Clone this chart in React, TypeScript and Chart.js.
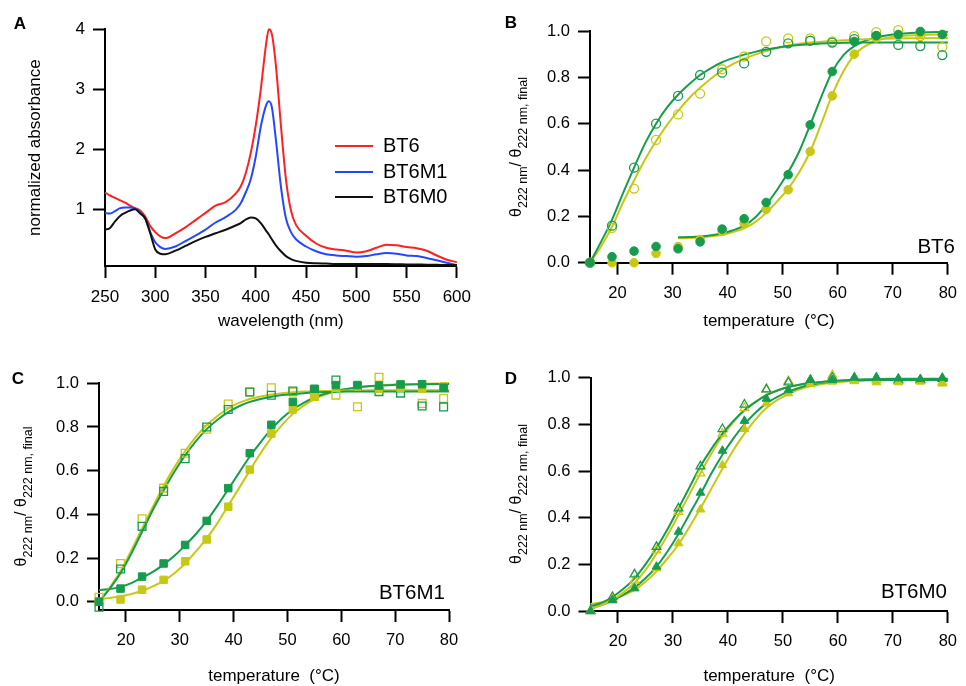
import React, { useEffect, useRef } from 'react';
import { Chart, registerables } from 'chart.js';

Chart.register(...registerables);

const FONT = '"Liberation Sans", Arial, Helvetica, sans-serif';
const GREEN = '#169c4c';
const YELLOW = '#c8c814';
const RED = '#ff2020';
const BLUE = '#2448ff';
const BLACK = '#111111';

// ---------- Panel A : absorbance spectra ----------
const WAVELENGTH = [250, 255, 260, 265, 270, 275, 280, 285, 290, 295, 300, 305, 310, 320, 330, 340, 350, 360, 370, 380, 385, 390, 395, 400, 405, 410, 413, 416, 420, 425, 430, 435, 440, 450, 460, 470, 480, 490, 500, 510, 520, 530, 540, 550, 560, 570, 580, 590, 600];
const ABS_BT6 = [1.28, 1.23, 1.19, 1.15, 1.11, 1.06, 1.02, 0.98, 0.88, 0.72, 0.62, 0.55, 0.52, 0.6, 0.7, 0.82, 0.94, 1.06, 1.12, 1.26, 1.38, 1.6, 1.94, 2.4, 3.0, 3.72, 4.0, 3.92, 3.4, 2.4, 1.5, 0.98, 0.74, 0.56, 0.43, 0.36, 0.33, 0.31, 0.28, 0.3, 0.36, 0.41, 0.4, 0.37, 0.35, 0.31, 0.23, 0.16, 0.12];
const ABS_BT6M1 = [0.94, 0.93, 0.97, 1.02, 1.03, 1.03, 1.01, 0.95, 0.84, 0.62, 0.45, 0.37, 0.34, 0.38, 0.47, 0.56, 0.66, 0.78, 0.87, 0.99, 1.1, 1.28, 1.5, 1.88, 2.38, 2.72, 2.8, 2.7, 2.16, 1.38, 0.85, 0.62, 0.5, 0.38, 0.3, 0.25, 0.23, 0.22, 0.21, 0.22, 0.25, 0.27, 0.26, 0.23, 0.22, 0.19, 0.15, 0.11, 0.07];
const ABS_BT6M0 = [0.66, 0.69, 0.8, 0.89, 0.94, 0.98, 1.0, 0.93, 0.85, 0.6, 0.33, 0.26, 0.25, 0.31, 0.39, 0.47, 0.54, 0.6, 0.66, 0.73, 0.77, 0.83, 0.865, 0.85, 0.77, 0.65, 0.58, 0.5, 0.4, 0.3, 0.22, 0.17, 0.14, 0.11, 0.1, 0.095, 0.09, 0.09, 0.09, 0.088, 0.087, 0.087, 0.085, 0.082, 0.08, 0.077, 0.075, 0.072, 0.07];
const SPECTRA_LABELS = ['BT6', 'BT6M1', 'BT6M0'];
const WL_TICKS = [250, 300, 350, 400, 450, 500, 550, 600];
const ABS_TICKS = [1, 2, 3, 4];

// ---------- Panels B-D : thermal melts ----------
const TEMPS = [15, 19, 23, 27, 31, 35, 39, 43, 47, 51, 55, 59, 63, 67, 71, 75, 79];
const TEMP_TICKS = [20, 30, 40, 50, 60, 70, 80];
const FRAC_TICKS = [0, 0.2, 0.4, 0.6, 0.8, 1.0];

// B (BT6)
const B_OPEN_GREEN = [0, 0.16, 0.41, 0.6, 0.72, 0.81, 0.82, 0.86, 0.91, 0.947, 0.958, 0.95, 0.965, 0.978, 0.94, 0.935, 0.896];
const B_OPEN_YELLOW = [0, 0.15, 0.32, 0.53, 0.64, 0.73, 0.835, 0.89, 0.955, 0.968, 0.968, 0.955, 0.978, 0.995, 1.004, 0.978, 0.93];
const B_FILLED_GREEN = [0, 0.026, 0.05, 0.07, 0.06, 0.09, 0.145, 0.19, 0.26, 0.38, 0.595, 0.825, 0.955, 0.98, 0.985, 0.998, 0.985];
const B_FILLED_YELLOW = [0, 0, 0, 0.04, 0.07, 0.1, 0.135, 0.17, 0.23, 0.315, 0.48, 0.72, 0.9, 0.97, 0.98, 0.99, 0.985];

// fit curves
const FIT_T = [15, 17, 19, 21, 23, 25, 27, 29, 31, 33, 35, 37, 39, 41, 43, 45, 47, 49, 51, 53, 55, 57, 59, 61, 63, 65, 67, 70, 75, 80];
const FIT_T_HI = [31, 33, 35, 37, 39, 41, 43, 45, 47, 49, 51, 53, 55, 57, 59, 61, 63, 65, 67, 70, 75, 80];
const B_FIT_OPEN_GREEN = [0, 0.09, 0.185, 0.3, 0.41, 0.515, 0.6, 0.67, 0.725, 0.77, 0.81, 0.84, 0.865, 0.883, 0.898, 0.91, 0.92, 0.928, 0.935, 0.94, 0.943, 0.946, 0.948, 0.949, 0.95, 0.95, 0.95, 0.95, 0.95, 0.95];
const B_FIT_OPEN_YELLOW = [0, 0.07, 0.155, 0.26, 0.355, 0.445, 0.525, 0.595, 0.655, 0.71, 0.755, 0.795, 0.83, 0.858, 0.88, 0.898, 0.913, 0.926, 0.937, 0.945, 0.95, 0.954, 0.957, 0.96, 0.962, 0.964, 0.966, 0.968, 0.969, 0.97];
const B_FIT_FILLED_GREEN = [0.11, 0.111, 0.113, 0.118, 0.127, 0.14, 0.16, 0.195, 0.25, 0.315, 0.39, 0.48, 0.595, 0.715, 0.824, 0.895, 0.935, 0.958, 0.972, 0.985, 0.994, 0.997];
const B_FIT_FILLED_YELLOW = [0.105, 0.107, 0.11, 0.114, 0.12, 0.132, 0.148, 0.175, 0.215, 0.265, 0.32, 0.39, 0.48, 0.6, 0.724, 0.824, 0.896, 0.935, 0.958, 0.975, 0.983, 0.985];

// C (BT6M1)
const C_OPEN_GREEN = [-0.025, 0.15, 0.345, 0.505, 0.655, 0.8, 0.88, 0.96, 0.945, 0.965, 0.97, 1.015, 0.985, 0.962, 0.955, 0.896, 0.892];
const C_OPEN_YELLOW = [0.02, 0.175, 0.38, 0.52, 0.68, 0.79, 0.905, 0.96, 0.98, 0.96, 0.94, 0.946, 0.893, 1.028, 0.985, 0.908, 0.93];
const C_FILLED_GREEN = [0, 0.06, 0.115, 0.175, 0.26, 0.37, 0.52, 0.68, 0.81, 0.915, 0.975, 0.992, 0.992, 0.99, 0.995, 0.996, 0.98];
const C_FILLED_YELLOW = [0, 0.01, 0.055, 0.1, 0.185, 0.285, 0.435, 0.605, 0.77, 0.88, 0.94, 0.98, 0.985, 0.975, 0.98, 0.975, 0.985];
const C_FIT_OPEN_GREEN = [0, 0.06, 0.13, 0.22, 0.32, 0.42, 0.51, 0.595, 0.67, 0.735, 0.79, 0.833, 0.868, 0.895, 0.915, 0.928, 0.938, 0.946, 0.951, 0.955, 0.958, 0.96, 0.961, 0.962, 0.962, 0.962, 0.962, 0.962, 0.962, 0.962];
const C_FIT_OPEN_YELLOW = [0, 0.065, 0.14, 0.235, 0.335, 0.435, 0.53, 0.615, 0.69, 0.755, 0.808, 0.85, 0.885, 0.91, 0.928, 0.94, 0.949, 0.955, 0.959, 0.962, 0.964, 0.965, 0.966, 0.967, 0.967, 0.968, 0.968, 0.968, 0.968, 0.968];
const C_FIT_FILLED_GREEN = [0.053, 0.058, 0.068, 0.085, 0.11, 0.137, 0.17, 0.21, 0.258, 0.31, 0.37, 0.44, 0.515, 0.59, 0.665, 0.73, 0.79, 0.84, 0.88, 0.91, 0.935, 0.952, 0.965, 0.974, 0.981, 0.986, 0.99, 0.993, 0.996, 0.997];
const C_FIT_FILLED_YELLOW = [0.012, 0.017, 0.025, 0.035, 0.05, 0.07, 0.095, 0.13, 0.175, 0.23, 0.29, 0.36, 0.44, 0.52, 0.6, 0.68, 0.75, 0.81, 0.86, 0.898, 0.927, 0.948, 0.963, 0.974, 0.981, 0.987, 0.99, 0.994, 0.998, 1.0];

// D (BT6M0)
const D_OPEN_GREEN = [0, 0.06, 0.157, 0.275, 0.44, 0.62, 0.78, 0.885, 0.95, 0.98, 0.99, 1.0, 1.0, 1.0, 0.99, 0.99, 0.995];
const D_OPEN_YELLOW = [0, 0.05, 0.13, 0.26, 0.425, 0.59, 0.76, 0.87, 0.95, 0.985, 0.99, 1.01, 0.99, 0.99, 0.985, 0.99, 0.98];
const D_FILLED_GREEN = [0, 0.047, 0.097, 0.19, 0.34, 0.507, 0.687, 0.815, 0.91, 0.947, 0.99, 0.99, 1.0, 1.0, 0.997, 0.994, 1.0];
const D_FILLED_YELLOW = [0, 0.045, 0.1, 0.183, 0.29, 0.435, 0.625, 0.78, 0.89, 0.933, 0.973, 0.983, 0.985, 0.98, 0.98, 0.983, 0.975];
const D_FIT_OPEN_GREEN = [0.02, 0.035, 0.06, 0.095, 0.14, 0.2, 0.27, 0.35, 0.44, 0.53, 0.62, 0.695, 0.76, 0.815, 0.86, 0.895, 0.925, 0.945, 0.96, 0.97, 0.977, 0.982, 0.986, 0.988, 0.989, 0.99, 0.99, 0.99, 0.99, 0.99];
const D_FIT_OPEN_YELLOW = [0.01, 0.025, 0.048, 0.08, 0.12, 0.175, 0.245, 0.325, 0.41, 0.5, 0.59, 0.675, 0.75, 0.81, 0.86, 0.897, 0.925, 0.945, 0.96, 0.97, 0.976, 0.981, 0.985, 0.987, 0.988, 0.989, 0.99, 0.99, 0.99, 0.99];
const D_FIT_FILLED_GREEN = [0.01, 0.025, 0.045, 0.07, 0.1, 0.14, 0.19, 0.255, 0.33, 0.415, 0.5, 0.59, 0.67, 0.74, 0.8, 0.85, 0.89, 0.918, 0.94, 0.957, 0.97, 0.978, 0.984, 0.988, 0.991, 0.993, 0.994, 0.995, 0.995, 0.995];
const D_FIT_FILLED_YELLOW = [0.03, 0.038, 0.05, 0.067, 0.09, 0.125, 0.17, 0.225, 0.285, 0.36, 0.44, 0.525, 0.61, 0.69, 0.76, 0.82, 0.87, 0.905, 0.93, 0.95, 0.963, 0.972, 0.979, 0.983, 0.986, 0.988, 0.989, 0.99, 0.99, 0.99];

// ---------- texts ----------
const A_X_TITLE = 'wavelength (nm)';
const A_Y_TITLE = 'normalized absorbance';
const T_X_TITLE = 'temperature  (°C)';
const Y_TITLE_PARTS: [string, boolean][] = [['θ', false], ['222 nm', true], ['/ θ', false], ['222 nm, final', true]];
const PANEL_NAMES = ['BT6', 'BT6M1', 'BT6M0'];

type Box = { l: number; t: number; r: number; b: number };
interface PanelDef {
  id: string;
  left: number; top: number; width: number; height: number;
  area: Box; scaleBottom: number; padLeft: number;
  x: { min: number; max: number; ticks: number[]; fmt: (v: number) => string };
  y: { min: number; max: number; ticks: number[]; fmt: (v: number) => string };
  tickSize: number;
  xTitle: string;
  yTitle?: string; yTitlePad?: number;
  datasets: any[];
  draw: (ctx: CanvasRenderingContext2D, chart: any) => void;
}

const pts = (xs: number[], ys: number[]) => xs.map((x, i) => ({ x, y: ys[i] }));

function markers(ys: number[], color: string, style: string, filled: boolean, radius: number) {
  return {
    data: pts(TEMPS, ys), showLine: false, pointStyle: style, pointRadius: radius,
    pointBackgroundColor: filled ? color : 'rgba(0,0,0,0)', pointBorderColor: color,
    pointBorderWidth: filled ? 1 : 1.3, clip: false,
  };
}
function fitLine(xs: number[], ys: number[], color: string) {
  return {
    data: pts(xs, ys), showLine: true, pointRadius: 0, borderColor: color, borderWidth: 2,
    cubicInterpolationMode: 'monotone', fill: false, clip: false,
  };
}

function drawLetter(ctx: CanvasRenderingContext2D, s: string, x: number, y: number) {
  ctx.font = `bold 17px ${FONT}`; ctx.fillStyle = '#000';
  ctx.textAlign = 'center'; ctx.textBaseline = 'middle';
  ctx.fillText(s, x, y);
}
function drawName(ctx: CanvasRenderingContext2D, s: string, right: number, y: number) {
  ctx.font = `20.5px ${FONT}`; ctx.fillStyle = '#000';
  ctx.textAlign = 'right'; ctx.textBaseline = 'middle';
  ctx.fillText(s, right, y);
}
function drawThetaTitle(ctx: CanvasRenderingContext2D, baseX: number, centerY: number) {
  ctx.save();
  ctx.translate(baseX, centerY);
  ctx.rotate(-Math.PI / 2);
  ctx.fillStyle = '#000'; ctx.textAlign = 'left'; ctx.textBaseline = 'alphabetic';
  const font = (sub: boolean) => (sub ? `12.5px ${FONT}` : `16px ${FONT}`);
  let total = 0;
  const widths = Y_TITLE_PARTS.map(([t, sub]) => { ctx.font = font(sub); const w = ctx.measureText(t).width; total += w; return w; });
  let x = -total / 2;
  Y_TITLE_PARTS.forEach(([t, sub], i) => { ctx.font = font(sub); ctx.fillText(t, x, sub ? 5.5 : 0); x += widths[i]; });
  ctx.restore();
}

const frac = (v: number) => v.toFixed(1);
const int = (v: number) => String(v);

const PANELS: PanelDef[] = [
  {
    id: 'A', left: 0, top: 0, width: 480, height: 340,
    area: { l: 105, t: 29.3, r: 458, b: 266 }, scaleBottom: 330, padLeft: 20,
    x: { min: 250, max: 600, ticks: WL_TICKS, fmt: int },
    y: { min: 0.055, max: 4, ticks: ABS_TICKS, fmt: int },
    tickSize: 17, xTitle: A_X_TITLE, yTitle: A_Y_TITLE, yTitlePad: 6.5,
    datasets: [
      { label: SPECTRA_LABELS[2], ...fitLine(WAVELENGTH, ABS_BT6M0, BLACK) },
      { label: SPECTRA_LABELS[1], ...fitLine(WAVELENGTH, ABS_BT6M1, BLUE) },
      { label: SPECTRA_LABELS[0], ...fitLine(WAVELENGTH, ABS_BT6, RED) },
    ],
    draw: (ctx, chart) => {
      drawLetter(ctx, 'A', 20, 24);
      const order = [2, 1, 0];
      const ys = [146, 172, 197];
      order.forEach((di, k) => {
        const ds = chart.data.datasets[di];
        ctx.strokeStyle = ds.borderColor; ctx.lineWidth = 2;
        ctx.beginPath(); ctx.moveTo(335, ys[k]); ctx.lineTo(373, ys[k]); ctx.stroke();
        ctx.font = `20px ${FONT}`; ctx.fillStyle = '#000'; ctx.textAlign = 'left'; ctx.textBaseline = 'middle';
        ctx.fillText(ds.label, 383, ys[k]);
      });
    },
  },
  {
    id: 'B', left: 480, top: 0, width: 486, height: 340,
    area: { l: 590, t: 31, r: 957, b: 262.7 }, scaleBottom: 330, padLeft: 0,
    x: { min: 15, max: 80, ticks: TEMP_TICKS, fmt: int },
    y: { min: 0, max: 1, ticks: FRAC_TICKS, fmt: frac },
    tickSize: 16.5, xTitle: T_X_TITLE,
    datasets: [
      markers(B_FILLED_GREEN, GREEN, 'circle', true, 4.3),
      markers(B_FILLED_YELLOW, YELLOW, 'circle', true, 4.3),
      markers(B_OPEN_GREEN, GREEN, 'circle', false, 4.5),
      markers(B_OPEN_YELLOW, YELLOW, 'circle', false, 4.5),
      fitLine(FIT_T, B_FIT_OPEN_GREEN, GREEN),
      fitLine(FIT_T, B_FIT_OPEN_YELLOW, YELLOW),
      fitLine(FIT_T_HI, B_FIT_FILLED_GREEN, GREEN),
      fitLine(FIT_T_HI, B_FIT_FILLED_YELLOW, YELLOW),
    ],
    draw: (ctx) => {
      drawLetter(ctx, 'B', 511, 23);
      drawName(ctx, PANEL_NAMES[0], 955, 247);
      drawThetaTitle(ctx, 521, 147);
    },
  },
  {
    id: 'C', left: 0, top: 340, width: 480, height: 346,
    area: { l: 99, t: 383.3, r: 449, b: 610 }, scaleBottom: 685, padLeft: 0,
    x: { min: 15, max: 80, ticks: TEMP_TICKS, fmt: int },
    y: { min: -0.038, max: 1, ticks: FRAC_TICKS, fmt: frac },
    tickSize: 16.5, xTitle: T_X_TITLE,
    datasets: [
      markers(C_FILLED_GREEN, GREEN, 'rect', true, 5.3),
      markers(C_FILLED_YELLOW, YELLOW, 'rect', true, 5.3),
      markers(C_OPEN_GREEN, GREEN, 'rect', false, 5.5),
      markers(C_OPEN_YELLOW, YELLOW, 'rect', false, 5.5),
      fitLine(FIT_T, C_FIT_OPEN_GREEN, GREEN),
      fitLine(FIT_T, C_FIT_OPEN_YELLOW, YELLOW),
      fitLine(FIT_T, C_FIT_FILLED_GREEN, GREEN),
      fitLine(FIT_T, C_FIT_FILLED_YELLOW, YELLOW),
    ],
    draw: (ctx) => {
      drawLetter(ctx, 'C', 18, 379);
      drawName(ctx, PANEL_NAMES[1], 445, 593);
      drawThetaTitle(ctx, 26, 496.5);
    },
  },
  {
    id: 'D', left: 480, top: 340, width: 486, height: 346,
    area: { l: 590.5, t: 377.7, r: 950, b: 611 }, scaleBottom: 685, padLeft: 0,
    x: { min: 15, max: 80, ticks: TEMP_TICKS, fmt: int },
    y: { min: 0, max: 1, ticks: FRAC_TICKS, fmt: frac },
    tickSize: 16.5, xTitle: T_X_TITLE,
    datasets: [
      markers(D_FILLED_GREEN, GREEN, 'triangle', true, 5),
      markers(D_FILLED_YELLOW, YELLOW, 'triangle', true, 5),
      markers(D_OPEN_GREEN, GREEN, 'triangle', false, 5),
      markers(D_OPEN_YELLOW, YELLOW, 'triangle', false, 5),
      fitLine(FIT_T, D_FIT_OPEN_GREEN, GREEN),
      fitLine(FIT_T, D_FIT_OPEN_YELLOW, YELLOW),
      fitLine(FIT_T, D_FIT_FILLED_GREEN, GREEN),
      fitLine(FIT_T, D_FIT_FILLED_YELLOW, YELLOW),
    ],
    draw: (ctx) => {
      drawLetter(ctx, 'D', 511, 379);
      drawName(ctx, PANEL_NAMES[2], 947, 592);
      drawThetaTitle(ctx, 521, 494);
    },
  },
];

function axisOptions(ax: PanelDef['x'], size: number, fit: (s: any) => void, title: any) {
  return {
    type: 'linear', min: ax.min, max: ax.max,
    afterBuildTicks: (s: any) => { s.ticks = ax.ticks.map((v) => ({ value: v })); },
    afterFit: fit,
    grid: { display: true, drawOnChartArea: false, drawTicks: true, tickLength: 12, tickWidth: 2, tickColor: '#000' },
    border: { display: true, color: '#000', width: 2 },
    ticks: { color: '#000', font: { family: FONT, size }, padding: 8, autoSkip: false, maxRotation: 0, callback: (v: any) => ax.fmt(Number(v)) },
    title,
  };
}

function buildConfig(p: PanelDef): any {
  const padTop = p.area.t - p.top;
  const padRight = p.left + p.width - p.area.r;
  const padBottom = p.top + p.height - p.scaleBottom;
  const yWidth = p.area.l - p.left - p.padLeft;
  const xHeight = p.scaleBottom - p.area.b;
  const xAxis = axisOptions(p.x, p.tickSize, (s: any) => { s.height = xHeight; }, {
    display: true, text: p.xTitle, color: '#000', font: { family: FONT, size: 17, lineHeight: 1 }, padding: { top: 0, bottom: 0 },
  });
  (xAxis.ticks as any).padding = 9;
  const yAxis = axisOptions(p.y, p.tickSize, (s: any) => { s.width = yWidth; }, p.yTitle ? {
    display: true, text: p.yTitle, color: '#000', font: { family: FONT, size: 17, lineHeight: 1 }, padding: { top: p.yTitlePad, bottom: 0 },
  } : { display: false });
  return {
    type: 'scatter',
    data: { datasets: p.datasets },
    options: {
      responsive: false, maintainAspectRatio: false, animation: false, devicePixelRatio: 1, events: [],
      layout: { padding: { left: p.padLeft, top: padTop, right: padRight, bottom: padBottom } },
      plugins: { legend: { display: false }, tooltip: { enabled: false }, title: { display: false } },
      scales: { x: xAxis, y: yAxis },
    },
    plugins: [{
      id: 'annot' + p.id,
      afterDraw(chart: any) {
        const ctx = chart.ctx as CanvasRenderingContext2D;
        ctx.save();
        ctx.translate(-p.left, -p.top);
        p.draw(ctx, chart);
        ctx.restore();
      },
    }],
  };
}

function ChartPanel({ def }: { def: PanelDef }) {
  const ref = useRef<HTMLCanvasElement>(null);
  useEffect(() => {
    const chart = new Chart(ref.current as HTMLCanvasElement, buildConfig(def));
    return () => chart.destroy();
  }, [def]);
  return (
    <canvas ref={ref} width={def.width} height={def.height}
      style={{ position: 'absolute', left: def.left, top: def.top, width: def.width, height: def.height }} />
  );
}

export default function App() {
  return (
    <div style={{ position: 'absolute', left: 0, top: 0, width: 966, height: 686, background: '#fff', overflow: 'hidden' }}>
      {PANELS.map((p) => <ChartPanel key={p.id} def={p} />)}
    </div>
  );
}
